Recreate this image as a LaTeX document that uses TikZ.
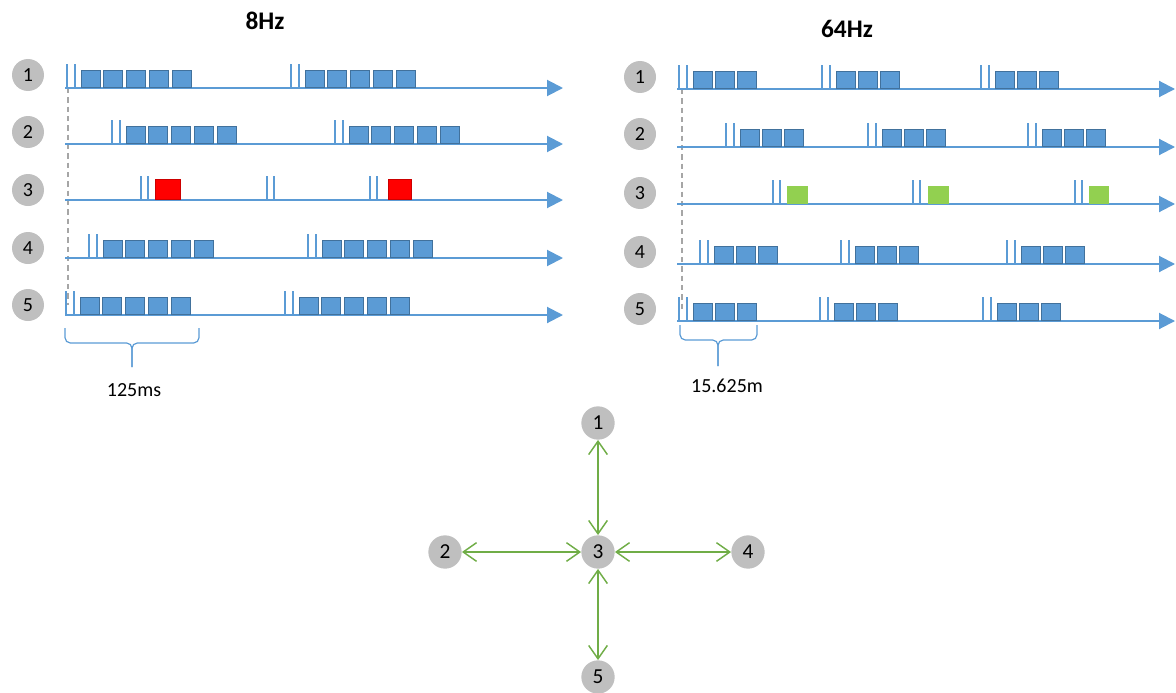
\documentclass[tikz,border=0pt]{standalone}
\usepackage{fontspec}
\setmainfont{Carlito}
\usetikzlibrary{arrows.meta}

\definecolor{sigblue}{HTML}{5B9BD5}
\definecolor{boxedge}{HTML}{41719C}
\definecolor{ptgray}{HTML}{BFBFBF}
\definecolor{linkgreen}{HTML}{70AD47}
\definecolor{ackgreen}{HTML}{92D050}
\definecolor{nackred}{HTML}{FF0000}
\definecolor{guide}{HTML}{A6A6A6}

\tikzset{
  station/.style={circle, fill=ptgray, inner sep=0pt, minimum size=24pt,
    font=\fontsize{15}{15}\selectfont},
  hub/.style={circle, fill=ptgray, inner sep=0pt, minimum size=25pt,
    font=\fontsize{16}{16}\selectfont},
  timeline/.style={draw=sigblue, line width=1.5pt, -{Triangle[length=12pt,width=12pt]}},
  slot/.style={fill=sigblue, draw=boxedge, line width=0.6pt},
  pulse/.style={draw=sigblue, line width=2pt},
  guideline/.style={draw=guide, line width=0.8pt, dash pattern=on 4pt off 3pt},
  bracket/.style={draw=sigblue, line width=0.9pt, rounded corners=4pt},
  link/.style={draw=linkgreen, line width=1.1pt,
    {Straight Barb[length=10pt,width=14pt]}-{Straight Barb[length=10pt,width=14pt]}},
  heading/.style={font=\fontsize{19}{19}\selectfont\bfseries},
  caption/.style={font=\fontsize{15}{15}\selectfont}
}

% beacon pair followed by #3 data slots; #1 line y, #2 first pulse x, #4 slot pitch
\newcommand\burst[4]{%
  \draw[pulse] (#2,#1) -- ++(0,-24);
  \draw[pulse] (#2+8,#1) -- ++(0,-24);
  \foreach \k in {1,...,#3}
    \draw[slot] ({#2+14+(\k-1)*#4},#1-1) rectangle ++(19,-17);
}
% beacon pair alone
\newcommand\beacon[2]{%
  \draw[pulse] (#2,#1) -- ++(0,-24);
  \draw[pulse] (#2+7,#1) -- ++(0,-24);
}

\begin{document}
\begin{tikzpicture}[x=0.75pt, y=-0.75pt]
\useasboundingbox (0,0) rectangle (1176,692);

% ---------- 8 Hz ----------
\node[heading] (t8) at (265,21) {8Hz};

\foreach \r/\ly/\cy in {1/88/75, 2/144/132, 3/200/190, 4/258/248, 5/315/305} {
  \node[station] (L\r) at (28,\cy) {\r};
  \coordinate (L\r s) at (65,\ly);
  \coordinate (L\r e) at (563,\ly);
}
\draw[guideline] (68,88) -- (68,305);
\foreach \r in {1,...,5} \draw[timeline] (L\r s) -- (L\r e);

\burst{88}{67}{5}{22.75}
\burst{88}{291}{5}{22.75}
\burst{144}{112}{5}{22.75}
\burst{144}{335}{5}{22.75}
\beacon{200}{141}
\draw[fill=nackred, draw=nackred!80!black, line width=0.3pt] (155,199) rectangle (180,179);
\beacon{200}{267}
\beacon{200}{370}
\draw[fill=nackred, draw=nackred!80!black, line width=0.3pt] (388,199) rectangle (411,179);
\burst{258}{89}{5}{22.75}
\burst{258}{308}{5}{22.75}
\burst{315}{66}{5}{22.75}
\burst{315}{285}{5}{22.75}

\draw[bracket] (65,328) -- (65,343) -- (132,343) -- (132,367);
\draw[bracket] (199,328) -- (199,343) -- (132,343) -- (132,367);
\node[caption] (d8) at (134,390) {125ms};

% ---------- 64 Hz ----------
\node[heading] (t64) at (847,29) {64Hz};

\foreach \r/\ly/\cy in {1/89/77, 2/147/134, 3/204/193, 4/264/252, 5/321/309} {
  \node[station] (R\r) at (640,\cy) {\r};
  \coordinate (R\r s) at (677,\ly);
  \coordinate (R\r e) at (1175,\ly);
}
\draw[guideline] (682,89) -- (682,312);
\foreach \r in {1,...,5} \draw[timeline] (R\r s) -- (R\r e);

\burst{89}{679}{3}{22}
\burst{89}{822}{3}{22}
\burst{89}{981}{3}{22}
\burst{147}{726}{3}{22}
\burst{147}{868}{3}{22}
\burst{147}{1028}{3}{22}
\beacon{204}{773}
\draw[fill=ackgreen, draw=ackgreen] (787,203) rectangle (807,186);
\beacon{204}{913}
\draw[fill=ackgreen, draw=ackgreen] (928,203) rectangle (948,186);
\beacon{204}{1075}
\draw[fill=ackgreen, draw=ackgreen] (1089,203) rectangle (1108,186);
\burst{264}{700}{3}{22}
\burst{264}{841}{3}{22}
\burst{264}{1007}{3}{22}
\burst{321}{679}{3}{22}
\burst{321}{820}{3}{22}
\burst{321}{983}{3}{22}

\draw[bracket] (680,325) -- (680,340) -- (718,340) -- (718,366);
\draw[bracket] (757,325) -- (757,340) -- (718,340) -- (718,366);
\node[caption] (d64) at (727,386) {15.625m};

% ---------- star topology ----------
\node[hub] (N1) at (598,423) {1};
\node[hub] (N2) at (445,552) {2};
\node[hub] (N3) at (598,552) {3};
\node[hub] (N4) at (748,552) {4};
\node[hub] (N5) at (598,677) {5};
\draw[link] (N1) -- (N3);
\draw[link] (N2) -- (N3);
\draw[link] (N3) -- (N4);
\draw[link] (N3) -- (N5);
\end{tikzpicture}
\end{document}
